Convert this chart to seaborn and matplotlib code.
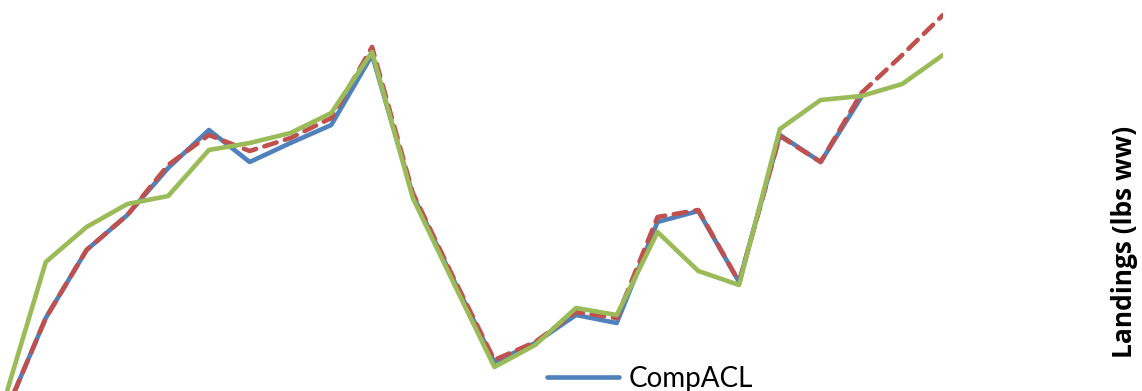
import matplotlib
matplotlib.use("Agg")
import matplotlib.pyplot as plt
import seaborn as sns
import pandas as pd

# Landings series (thousand lbs ww), one value per year step
years = list(range(1986, 2010))
comp_acl = [744, 1128, 1400, 1540, 1728, 1880, 1752, 1828, 1900, 2180, 1620, 1280,
            952, 1028, 1140, 1108, 1512, 1556, 1272, 1860, 1752, 2012]
acl = [744, 1128, 1400, 1540, 1740, 1860, 1796, 1848, 1928, 2212, 1628, 1288,
       960, 1032, 1152, 1128, 1532, 1560, 1272, 1856, 1752, 2028, 2180, 2340]
landings = [808, 1352, 1492, 1584, 1616, 1800, 1828, 1868, 1948, 2192, 1608, 1268,
            932, 1020, 1168, 1140, 1472, 1316, 1260, 1884, 2000, 2016, 2064, 2180]

series_names = ["CompACL", "ACL", "Landings"]
colors = ["#4F81BD", "#C0504D", "#9BBB59"]

sns.set_theme(style="white")
plt.rcParams["font.family"] = ["Lato", "DejaVu Sans"]

fig = plt.figure(figsize=(11.42, 3.91), dpi=100)
W, H = 1142, 391
ax = fig.add_axes([5 / W, 0, 938 / W, 1])

df_blue = pd.DataFrame({"year": years[:len(comp_acl)], "value": comp_acl})
df_red = pd.DataFrame({"year": years[:len(acl)], "value": acl})
df_green = pd.DataFrame({"year": years[:len(landings)], "value": landings})

lw = 3.3
sns.lineplot(data=df_blue, x="year", y="value", ax=ax, color=colors[0], lw=lw,
             label=series_names[0], solid_capstyle="round")
sns.lineplot(data=df_red, x="year", y="value", ax=ax, color=colors[1], lw=lw,
             label=series_names[1], dashes=False)
ax.lines[-1].set_dashes((2.8, 1.9))
ax.lines[-1].set_dash_capstyle("round")
sns.lineplot(data=df_green, x="year", y="value", ax=ax, color=colors[2], lw=lw,
             label=series_names[2])

ax.set_xlim(years[0], years[-1])
ax.set_ylim(836, 2400)
ax.set_xticks([])
ax.set_yticks([])
ax.set_xlabel("")
for s in ax.spines.values():
    s.set_visible(False)
ax.patch.set_alpha(0)

# Axis title on the right-hand side
ax.set_ylabel("Landings (lbs ww)", fontsize=19, fontweight="bold", color="black",
              family=["Open Sans", "DejaVu Sans"])
ax.yaxis.set_label_position("right")
ax.yaxis.label.set_rotation_mode("default")
ax.yaxis.label.set_verticalalignment("center")
ax.yaxis.label.set_horizontalalignment("center")
ax.yaxis.set_label_coords(1125 / W, 1 - 242 / H, transform=fig.transFigure)

leg = ax.legend(loc="upper left", bbox_to_anchor=(547 / W, 1 - 366 / H),
                bbox_transform=fig.transFigure, frameon=False, fontsize=20,
                handlelength=2.6, handletextpad=0.35, borderaxespad=0,
                borderpad=0, labelspacing=0.4)
for t in leg.get_texts():
    t.set_color("black")

fig.savefig("out.png", dpi=100)
